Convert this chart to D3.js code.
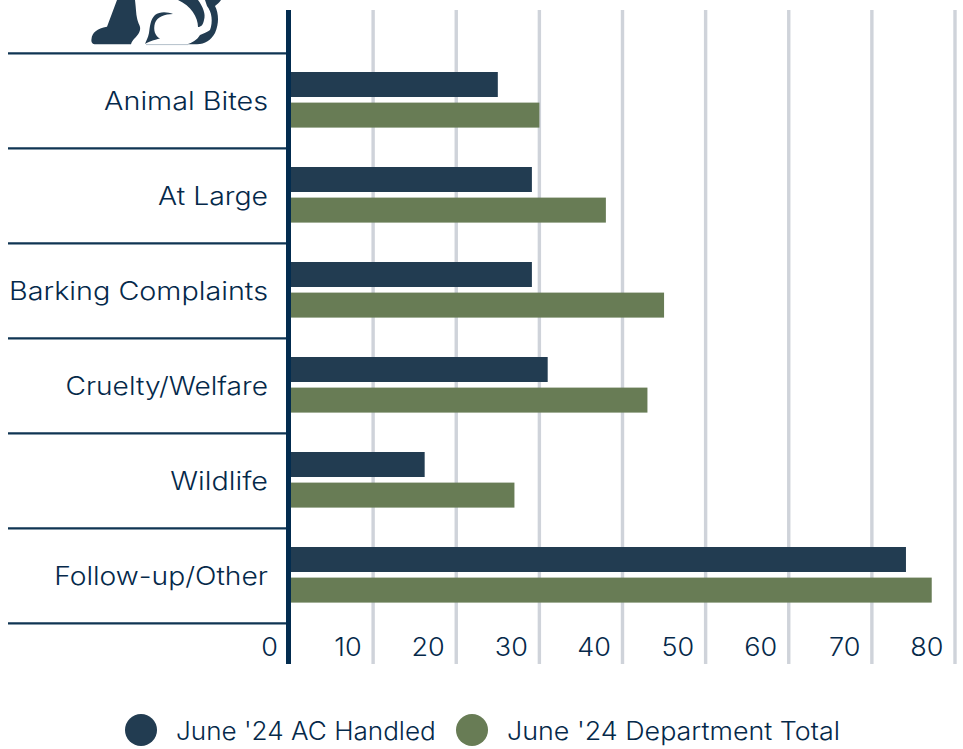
<!DOCTYPE html>
<html>
<head>
<meta charset="utf-8">
<script src="https://cdn.jsdelivr.net/npm/d3@7"></script>
<style>
  html, body { margin: 0; padding: 0; background: #fff; }
  text { font-family: "Inter", "Noto Sans", sans-serif; fill: #05294a; font-size: 25px; font-weight: 300; }
</style>
</head>
<body>
<div id="chart"></div>
<script>
const categories = ["Animal Bites", "At Large", "Barking Complaints", "Cruelty/Welfare", "Wildlife", "Follow-up/Other"];
const handled = [25, 29.1, 29.1, 31, 16.2, 74.1];
const deptTotal = [30, 38, 45, 43, 27, 77.2];
const tickValues = [0, 10, 20, 30, 40, 50, 60, 70, 80];
const seriesNames = ["June '24 AC Handled", "June '24 Department Total"];
const seriesColors = ["#223c51", "#687c55"];

const svg = d3.select("#chart").append("svg")
    .attr("width", 963)
    .attr("height", 749)
    .style("display", "block");

const x = d3.scaleLinear().domain([0, 80]).range([290, 955]);
const y = d3.scaleBand().domain(categories).range([53, 623]);

// Inter is narrower than the original font, so labels get stretched sideways
const stretchedText = (sel, sx, px, py) => sel
    .attr("transform", (d, i) => "translate(" + px(d, i) + "," + py(d, i) + ") scale(" + sx(d, i) + ",1)");

// logo, cropped by the top of the page
const logo = svg.append("g").attr("fill", "#223c51");
logo.append("path").attr("d", "M117,0 L135,0 C136,8 136,14 137,18 C138,24 141,26 140,30 C139,36 132,39 131,44.3 L96,44.3 C92,44.3 91,42 91.5,39 C92,33 97,28 107,26.7 Z");
logo.append("path").attr("d", "M173,14 C168,12 160,11 155,15 C150,20 150,27 149,33 C148,38 146,41 145,44 C148,42 154,40 160,38.5 C155,36 153,30 155,23 C157,17 165,14 173,14 Z");
logo.append("path").attr("d", "M178,0 L198,0 C203,7 206,14 204,20 C203,25 201,27 198,27 C198,17 191,6 178,0 Z");
logo.append("path").attr("d", "M205,0 L221,0 C219,3 217,4 215,6 C219,14 219,24 215,33 C211,40 205,44.3 197,44.3 L187,44.3 C192,43 197,40 200,35 C204,33 208,32 210,30 C213,22 212,12 207,6 Z");
logo.append("line")
    .attr("x1", 146).attr("x2", 188).attr("y1", 44.6).attr("y2", 44.6)
    .attr("stroke", "#b4c0ca").attr("stroke-width", 1);

// grid lines
svg.append("g").selectAll("line")
    .data(tickValues.slice(1))
    .join("line")
    .attr("x1", d => x(d)).attr("x2", d => x(d))
    .attr("y1", 10).attr("y2", 664)
    .attr("stroke", "#cfd3da")
    .attr("stroke-width", 3.4);

// row separators
svg.append("g").selectAll("line")
    .data(categories.map(d => y(d)).concat([y.range()[1]]))
    .join("line")
    .attr("x1", 8).attr("x2", 288)
    .attr("y1", d => d + 0.3).attr("y2", d => d + 0.3)
    .attr("stroke", "#0f3553")
    .attr("stroke-width", 2.2);

// bars
const barHeight = 25;
svg.append("g").selectAll("rect")
    .data(handled)
    .join("rect")
    .attr("x", x(0))
    .attr("y", (d, i) => y(categories[i]) + 19)
    .attr("width", d => x(d) - x(0))
    .attr("height", barHeight)
    .attr("fill", seriesColors[0]);

svg.append("g").selectAll("rect")
    .data(deptTotal)
    .join("rect")
    .attr("x", x(0))
    .attr("y", (d, i) => y(categories[i]) + 49.6)
    .attr("width", d => x(d) - x(0))
    .attr("height", barHeight)
    .attr("fill", seriesColors[1]);

// axis line
svg.append("line")
    .attr("x1", 288.5).attr("x2", 288.5)
    .attr("y1", 10).attr("y2", 664)
    .attr("stroke", "#032c4f")
    .attr("stroke-width", 5);

// category labels
const labelStretch = [1.15, 1.135, 1.15, 1.125, 1.15, 1.13];
svg.append("g").selectAll("text")
    .data(categories)
    .join("text")
    .attr("text-anchor", "end")
    .text(d => d)
    .call(stretchedText, (d, i) => labelStretch[i], () => 268, d => y(d) + 57);

// tick labels
svg.append("g").selectAll("text")
    .data(tickValues)
    .join("text")
    .attr("text-anchor", "end")
    .text(d => d)
    .call(stretchedText, () => 1.08, d => (d === 0 ? 278 : x(d) - 11.5), () => 656);

// legend
const legendX = [141, 472];
const legendStretch = [1.045, 1.075];
svg.append("g").selectAll("circle")
    .data(seriesNames)
    .join("circle")
    .attr("cx", (d, i) => legendX[i])
    .attr("cy", 730)
    .attr("r", 16)
    .attr("fill", (d, i) => seriesColors[i]);

svg.append("g").selectAll("text")
    .data(seriesNames)
    .join("text")
    .text(d => d)
    .call(stretchedText, (d, i) => legendStretch[i], (d, i) => legendX[i] + 35, () => 740);
</script>
</body>
</html>
